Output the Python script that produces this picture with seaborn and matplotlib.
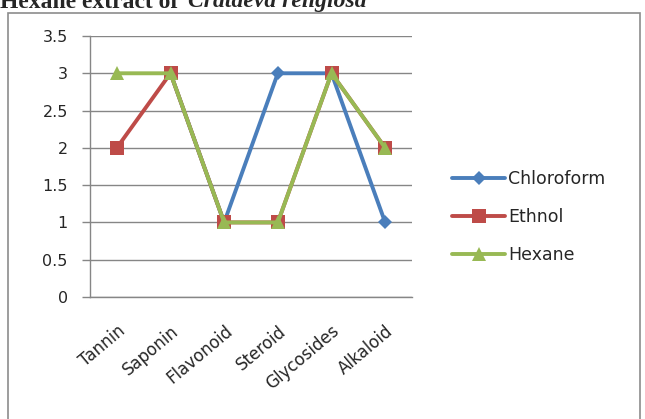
import matplotlib.pyplot as plt
import matplotlib.transforms as mtransforms
import numpy as np
import pandas as pd
import seaborn as sns
from matplotlib.patches import Rectangle
from matplotlib.ticker import FixedLocator

# Data (no chloroform point is shown for Tannin)
tests = ['Tannin', 'Saponin', 'Flavonoid', 'Steroid', 'Glycosides', 'Alkaloid']
chloroform = [np.nan, 3, 1, 3, 3, 1]
ethnol = [2, 3, 1, 1, 3, 2]
hexane = [3, 3, 1, 1, 3, 2]
series = ['Chloroform', 'Ethnol', 'Hexane']
y_ticks = [0, 0.5, 1, 1.5, 2, 2.5, 3, 3.5]
y_labels = ['0', '0.5', '1', '1.5', '2', '2.5', '3', '3.5']

df = pd.DataFrame({'test': tests, 'pos': range(len(tests)),
                   'Chloroform': chloroform, 'Ethnol': ethnol, 'Hexane': hexane})
df = df.melt(id_vars=['test', 'pos'], var_name='extract', value_name='score')

palette = {'Chloroform': '#4A7EBB', 'Ethnol': '#BE4B48', 'Hexane': '#98B954'}
markers = {'Chloroform': 'D', 'Ethnol': 's', 'Hexane': '^'}
msize = {'Chloroform': 7, 'Ethnol': 10, 'Hexane': 10}

sns.set_style('white')
plt.rcParams['font.family'] = ['DejaVu Sans']

fig = plt.figure(figsize=(6.45, 4.19), dpi=100)
ax = fig.add_axes([90 / 645, 1 - 297 / 419, 322 / 645, 261 / 419])

# outer chart border
fig.patches.append(Rectangle((8 / 645, -0.05), 632 / 645, 1 - 13 / 419 + 0.05,
                             transform=fig.transFigure, fill=False,
                             edgecolor='#8C8C8C', linewidth=1.2))

for name in series:
    sub = df[(df.extract == name) & df.score.notna()]
    sns.lineplot(data=sub, x='pos', y='score', ax=ax, color=palette[name],
                 marker=markers[name], markersize=msize[name], markeredgewidth=0,
                 linewidth=2.8, label=name, sort=False)

ax.set_xlim(-0.5, 5.5)
ax.set_ylim(0, 3.5)
ax.set_yticks(y_ticks)
ax.set_yticklabels(y_labels)
ax.set_xticks(range(len(tests)))
ax.set_xticklabels(tests, rotation=40, ha='right', rotation_mode='anchor')
shift = mtransforms.ScaledTranslation(4 / 100, 0, fig.dpi_scale_trans)
for lab in ax.get_xticklabels():
    lab.set_transform(lab.get_transform() + shift)
ax.xaxis.set_minor_locator(FixedLocator([i - 0.5 for i in range(len(tests) + 1)]))
ax.tick_params(axis='x', which='major', length=0, pad=18, labelsize=12, labelcolor='#262626')
ax.tick_params(axis='x', which='minor', length=5, width=1, color='#868686', direction='out')
ax.tick_params(axis='y', length=6, width=1, color='#868686', direction='out',
               labelsize=11.5, labelcolor='#262626', pad=10, left=True)
ax.set_xlabel('')
ax.set_ylabel('')
ax.grid(axis='y', color='#868686', linewidth=1)
ax.set_axisbelow(True)
for s in ['top', 'right']:
    ax.spines[s].set_visible(False)
for s in ['left', 'bottom']:
    ax.spines[s].set_color('#868686')
    ax.spines[s].set_linewidth(1)

leg = ax.legend(loc='center left', bbox_to_anchor=(436 / 645, 1 - 217 / 419),
                bbox_transform=fig.transFigure, frameon=False, fontsize=12.5,
                handlelength=3.1, labelspacing=1.15, handletextpad=0.15)
for t in leg.get_texts():
    t.set_color('#262626')

# title, partly cut off at the top edge as in the source
fig.text(0.0, 1 - 7.5 / 419, 'Hexane extract of', fontsize=17, fontweight='bold',
         family='Liberation Serif', va='baseline', ha='left')
fig.text(188 / 645, 1 - 7.5 / 419, 'Crataeva religiosa', fontsize=17, fontweight='bold',
         fontstyle='italic', family='Liberation Serif', va='baseline', ha='left')

plt.savefig('out.png', dpi=100)
